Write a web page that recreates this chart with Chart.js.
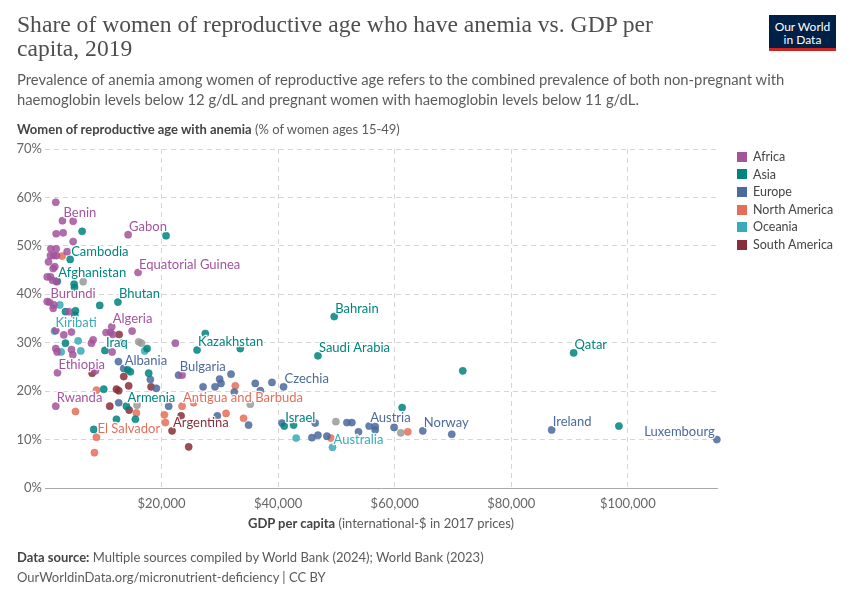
<!DOCTYPE html>
<html>
<head>
<meta charset="utf-8">
<script src="https://cdn.jsdelivr.net/npm/chart.js@4.4.1/dist/chart.umd.min.js"></script>
<style>
  html, body { margin: 0; padding: 0; background: #fff; }
  #wrap { position: relative; width: 850px; height: 600px; overflow: hidden; font-family: Lato, "Noto Sans", sans-serif; }
  #c { position: absolute; left: 0; top: 0; }
  .abs { position: absolute; white-space: nowrap; }
  #title { left: 17px; top: 12px; font-family: "Liberation Serif", "DejaVu Serif", serif; font-size: 23.6px; line-height: 24px; color: #4e4e4e; white-space: normal; width: 700px; }
  #subtitle { left: 17px; top: 70px; font-size: 14.8px; line-height: 19.5px; color: #5b5b5b; }
  #ytitle { left: 17px; top: 121px; font-size: 13px; color: #5b5b5b; }
  #xtitle { left: 0; width: 762px; text-align: center; top: 515px; font-size: 13px; color: #5b5b5b; }
  #foot1 { left: 17px; top: 549px; font-size: 13px; color: #5b5b5b; }
  #foot2 { left: 17px; top: 569px; font-size: 13px; color: #5b5b5b; }
  b { font-weight: 700; color: #444; }
  #logo { left: 769px; top: 15px; width: 67px; background: #002147; border-bottom: 3px solid #ce261e; color: #fff; font-size: 12px; line-height: 13px; text-align: center; padding-top: 5px; box-sizing: content-box; height: 28px; }
  #legend { left: 737px; top: 148px; font-size: 12.5px; color: #444; }
  .li { height: 17.6px; line-height: 17.6px; display: flex; align-items: center; }
  .sw { width: 10px; height: 10px; margin-right: 6px; display: inline-block; }
</style>
</head>
<body>
<div id="wrap">
  <canvas id="c" width="850" height="600"></canvas>
  <div id="title" class="abs">Share of women of reproductive age who have anemia vs. GDP per capita, 2019</div>
  <div id="subtitle" class="abs">Prevalence of anemia among women of reproductive age refers to the combined prevalence of both non-pregnant with<br>haemoglobin levels below 12 g/dL and pregnant women with haemoglobin levels below 11 g/dL.</div>
  <div id="ytitle" class="abs"><b>Women of reproductive age with anemia</b> (% of women ages 15-49)</div>
  <div id="xtitle" class="abs"><b>GDP per capita</b> (international-$ in 2017 prices)</div>
  <div id="foot1" class="abs"><b>Data source:</b> Multiple sources compiled by World Bank (2024); World Bank (2023)</div>
  <div id="foot2" class="abs">OurWorldinData.org/micronutrient-deficiency | CC BY</div>
  <div id="logo" class="abs">Our World<br>in Data</div>
  <div id="legend" class="abs"></div>
</div>
<script>
// ---- Data: [GDP per capita, anemia %, optional label] ----
const africa = [
  [1850,59.0],[3000,55.2,'Benin'],[4830,55.1],[1920,52.5],[3120,52.7],[14260,52.3,'Gabon'],[4830,50.9],
  [990,49.4],[1920,49.4],[3800,48.8],[940,48.0],[1510,48.0],[1970,48.0],[600,46.7],[1680,45.7],[1400,45.3],
  [15970,44.5,'Equatorial Guinea'],[380,43.6],[940,43.6],[1290,42.9],[1970,42.6],[380,38.5],[770,38.4,'Burundi'],
  [1510,37.8],[1400,37.1],[4080,36.4],[11450,33.3,'Algeria'],[14950,32.4],[10490,32.1],[11230,32.1],[11620,31.7],
  [1850,32.5],[3220,31.6],[4540,32.2],[1850,28.8],[2090,28.1],[4540,28.6],[4770,27.5],[7970,29.9],[8260,30.6],
  [11520,28.1],[2140,23.8,'Ethiopia'],[8660,24.2],[23520,23.3],[22370,29.9],[1850,16.9,'Rwanda']
];
const asia = [
  [6370,53.0],[20770,52.1],[4320,47.2,'Cambodia'],[2110,42.7,'Afghanistan'],[5000,42.1],[5060,41.4],
  [12510,38.4,'Bhutan'],[9390,37.7],[3510,36.4],[5230,36.6],[5110,35.7],[3510,29.9],[10280,28.4,'Iraq'],
  [13230,29.9],[17520,28.8],[26090,28.5,'Kazakhstan'],[27510,31.9],[33510,28.8],[49620,35.4,'Bahrain'],
  [46830,27.3,'Saudi Arabia'],[14190,24.4],[14650,24.0],[17790,23.7],[10080,20.4],[13970,16.9,'Armenia'],
  [12260,14.2],[15510,14.2],[8360,12.1],[41050,12.8,'Israel'],[42650,13.0],[71680,24.2],[61280,16.6],
  [90700,27.9,'Qatar'],[98470,12.8]
];
const europe = [
  [12600,26.1],[13510,24.7,'Albania'],[18080,22.4],[19110,20.6],[22930,23.3,'Bulgaria'],[31920,23.5],
  [29960,22.5],[30200,21.6],[27120,20.9],[29170,20.9],[36080,21.6],[38940,21.8],[40930,20.9,'Czechia'],
  [36940,20.1],[32480,19.8],[12650,17.6],[21220,16.9],[29570,14.9],[34930,13.0],[40660,13.4],[46360,13.4],
  [45800,10.4],[46830,10.9],[48370,10.7],[51800,13.5],[52650,13.5],[53790,11.6],[55620,12.8,'Austria'],
  [56650,12.7],[56650,12.0],[59900,12.5],[64820,11.8,'Norway'],[69790,11.1],[86930,12.0,'Ireland'],
  [115270,10.0,'Luxembourg']
];
const northAmerica = [
  [2950,47.9],[8830,20.2],[5230,15.8],[8830,10.5,'El Salvador'],[8480,7.3],[15680,15.5],[20480,15.1],
  [20650,13.5],[23520,16.9,'Antigua and Barbuda'],[25500,17.6],[32650,21.1],[31060,15.4],[34070,14.4],
  [49050,10.3],[62250,11.6]
];
const oceania = [
  [1630,32.4,'Kiribati'],[2540,37.8],[6140,28.3],[5690,30.4],[2780,28.1],[17110,28.3],[43100,10.3],
  [49330,8.4,'Australia']
];
const southAmerica = [
  [12720,31.7],[8090,23.7],[13510,23.0],[12260,20.4],[12650,20.1],[14360,21.1],[18200,20.9],[11110,16.9],
  [14430,16.1],[21800,11.8,'Argentina'],[23350,14.9],[24650,8.5]
];
const noContinent = [
  [6550,42.6],[16080,30.2],[16540,29.9],[15800,17.1],[35220,17.3],[49910,13.7],[61050,11.4]
];
const continentNames = ['Africa','Asia','Europe','North America','Oceania','South America'];
const xTicks = [20000, 40000, 60000, 80000, 100000];
const yTicks = [0, 10, 20, 30, 40, 50, 60, 70];

// ---- Styles ----
const colors = ['#A2559C','#00847E','#4C6A9C','#E56E5A','#38AABA','#883039'];
const greyColor = '#9a9a9a';
const rightAlignedLabels = ['Luxembourg'];

function hexA(hex, a) {
  const n = parseInt(hex.slice(1), 16);
  return `rgba(${(n>>16)&255},${(n>>8)&255},${n&255},${a})`;
}

const seriesData = [africa, asia, europe, northAmerica, oceania, southAmerica];
const datasets = [{
  label: 'Other', data: noContinent.map(p => ({x: p[0], y: p[1]})), names: [],
  backgroundColor: hexA(greyColor, 0.85), borderColor: hexA(greyColor, 0.9), color: greyColor
}];
seriesData.forEach((arr, i) => {
  datasets.push({
    label: continentNames[i],
    data: arr.map(p => ({x: p[0], y: p[1]})),
    names: arr.map(p => p[2] || ''),
    backgroundColor: hexA(colors[i], 0.85),
    borderColor: hexA(colors[i], 0.95),
    color: colors[i]
  });
});
datasets.forEach(d => { d.pointRadius = 3.6; d.pointHoverRadius = 3.6; d.borderWidth = 0.5; d.clip = false; });

// legend (HTML)
const lg = document.getElementById('legend');
continentNames.forEach((n, i) => {
  const el = document.createElement('div');
  el.className = 'li';
  el.innerHTML = `<span class="sw" style="background:${colors[i]}"></span>${n}`;
  lg.appendChild(el);
});

const labelPlugin = {
  id: 'pointLabels',
  afterDatasetsDraw(chart) {
    const ctx = chart.ctx;
    ctx.save();
    ctx.font = '13px Lato';
    ctx.textBaseline = 'middle';
    chart.data.datasets.forEach((ds, di) => {
      const meta = chart.getDatasetMeta(di);
      (ds.names || []).forEach((name, i) => {
        if (!name) return;
        const pt = meta.data[i];
        const right = rightAlignedLabels.includes(name);
        ctx.textAlign = right ? 'right' : 'left';
        const tx = right ? pt.x - 2 : pt.x + 1;
        const ty = pt.y - 8;
        ctx.lineWidth = 2.5;
        ctx.strokeStyle = 'rgba(255,255,255,0.9)';
        ctx.lineJoin = 'round';
        ctx.strokeText(name, tx, ty);
        ctx.fillStyle = ds.color;
        ctx.fillText(name, tx, ty);
      });
    });
    ctx.restore();
  }
};

new Chart(document.getElementById('c'), {
  type: 'scatter',
  data: { datasets },
  plugins: [labelPlugin],
  options: {
    responsive: false,
    animation: false,
    events: [],
    layout: { padding: { left: 0, right: 133, top: 149, bottom: 82 } },
    plugins: { legend: { display: false }, tooltip: { enabled: false } },
    scales: {
      x: {
        type: 'linear', min: 0, max: 115300,
        afterBuildTicks: s => { s.ticks = xTicks.map(v => ({value: v})); },
        afterFit: s => { s.height = 30; },
        grid: { color: '#d6d6d6', lineWidth: 1, drawTicks: false, borderDash: [5, 4] },
        border: { display: true, color: '#a8a8a8', width: 1, dash: [5, 4] },
        ticks: {
          padding: 8, color: '#666', font: { family: 'Lato', size: 13 },
          callback: v => '$' + v.toLocaleString('en-US')
        }
      },
      y: {
        type: 'linear', min: 0, max: 70,
        afterBuildTicks: s => { s.ticks = yTicks.map(v => ({value: v})); },
        afterFit: s => { s.width = 45; },
        grid: { color: ctx => ctx.tick && ctx.tick.value === 0 ? 'rgba(0,0,0,0)' : '#d6d6d6', lineWidth: 1, drawTicks: false, borderDash: [5, 4] },
        border: { display: false, dash: [5, 4] },
        ticks: {
          padding: 3, color: '#666', font: { family: 'Lato', size: 13 },
          callback: v => v + '%'
        }
      }
    }
  }
});
</script>
</body>
</html>
